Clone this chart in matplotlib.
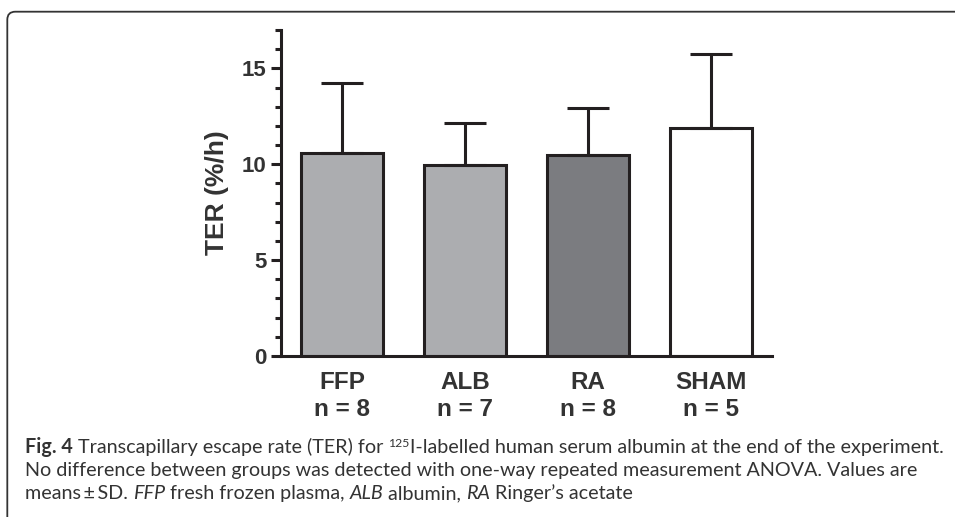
import matplotlib
matplotlib.use('Agg')
import matplotlib.pyplot as plt
from matplotlib.patches import FancyBboxPatch
from matplotlib.ticker import FixedLocator
from matplotlib import font_manager

# ---- data ----
categories = ['FFP', 'ALB', 'RA', 'SHAM']
n_values = [8, 7, 8, 5]
means = [10.61, 9.95, 10.47, 11.89]
sds = [3.62, 2.22, 2.48, 3.84]
fills = ['#acadb0', '#acadb0', '#7b7c80', '#ffffff']
yticks = [0, 5, 10, 15]
yminor = [1, 2, 3, 4, 6, 7, 8, 9, 11, 12, 13, 14, 16, 17]
ylabel = 'TER (%/h)'

caption_lines = [
    [('Fig. 4', 'bold', 'normal', 1.0, 0), (' Transcapillary escape rate (TER) for ', 'normal', 'normal', 1.0, 0),
     ('125', 'normal', 'normal', 0.62, 6), ('I-labelled human serum albumin at the end of the experiment.', 'normal', 'normal', 1.0, 0)],
    [('No difference between groups was detected with one-way repeated measurement ANOVA. Values are', 'normal', 'normal', 1.0, 0)],
    [('means\u2009\u00b1\u2009SD. ', 'normal', 'normal', 1.0, 0), ('FFP', 'normal', 'italic', 1.0, 0),
     (' fresh frozen plasma, ', 'normal', 'normal', 1.0, 0), ('ALB', 'normal', 'italic', 1.0, 0),
     (' albumin, ', 'normal', 'normal', 1.0, 0), ('RA', 'normal', 'italic', 1.0, 0),
     (' Ringer\u2019s acetate', 'normal', 'normal', 1.0, 0)],
]

ink = '#231f20'
txt = '#333333'
W, H = 955, 517

fig = plt.figure(figsize=(W / 100, H / 100), dpi=100)
fig.patch.set_facecolor('white')

ax = fig.add_axes([281 / W, 1 - 356 / H, 491 / W, 326 / H])
x = list(range(len(categories)))
ax.bar(x, means, width=0.667, color=fills, edgecolor=ink, linewidth=2.2, zorder=2)
ax.errorbar(x, means, yerr=[[0] * len(sds), sds], fmt='none', ecolor=ink,
            elinewidth=2.2, capsize=15, capthick=2.2, zorder=3)
ax.set_xlim(-0.5, 3.5)
ax.set_ylim(0, 17)
for s in ['top', 'right']:
    ax.spines[s].set_visible(False)
for s in ['left', 'bottom']:
    ax.spines[s].set_linewidth(2.2)
    ax.spines[s].set_color(ink)
ax.set_yticks(yticks)
ax.yaxis.set_minor_locator(FixedLocator(yminor))
ax.tick_params(axis='y', which='major', length=7, width=2.2, color=ink, pad=3.5,
               labelsize=16, labelcolor=txt)
ax.tick_params(axis='y', which='minor', length=4.5, width=2.2, color=ink)
for lab in ax.get_yticklabels():
    lab.set_fontweight('bold')
    lab.set_family('Liberation Sans')
ax.set_xticks(x)
ax.set_xticklabels([f'{c}\nn = {n}' for c, n in zip(categories, n_values)],
                   fontsize=17.5, fontweight='bold', family='Liberation Sans',
                   color=txt, linespacing=1.2)
ax.tick_params(axis='x', length=0, pad=11)
ax.set_ylabel(ylabel, fontsize=19, fontweight='bold', family='Liberation Sans', color=txt, va='center')
ax.yaxis.set_label_coords((216.7 - 281) / 491, 0.5)

# frame with rounded top-left corner
frame = FancyBboxPatch((0.073, -0.5), 10.0, 5.053 + 0.5,
                       boxstyle='round,pad=0,rounding_size=0.08',
                       transform=fig.dpi_scale_trans, fill=False,
                       ec='#333333', lw=1.3, clip_on=False)
fig.add_artist(frame)

# caption font
cap_family = 'Open Sans'
for cand in ['Liberation Sans Narrow', 'Lato', 'Open Sans']:
    try:
        font_manager.findfont(font_manager.FontProperties(family=cand), fallback_to_default=False)
        cap_family = cand
        break
    except Exception:
        pass

renderer = fig.canvas.get_renderer()


def line_width(runs, size):
    w = 0
    for s, wt, st, sc, dy in runs:
        t = fig.text(0, 0, s, fontsize=size * sc, fontweight=wt, fontstyle=st, family=cap_family)
        w += t.get_window_extent(renderer).width
        t.remove()
    return w


base = 13.5
target = 944 - 25
cap_size = base * target / line_width(caption_lines[0], base)

baselines = [453, 476, 499]
for runs, yb in zip(caption_lines, baselines):
    xp = 25
    for s, wt, st, sc, dy in runs:
        t = fig.text(xp / W, (H - yb + dy) / H, s, fontsize=cap_size * sc, fontweight=wt,
                     fontstyle=st, family=cap_family, color=txt, va='baseline', ha='left')
        xp += t.get_window_extent(renderer).width

fig.savefig('out.png', dpi=100)
